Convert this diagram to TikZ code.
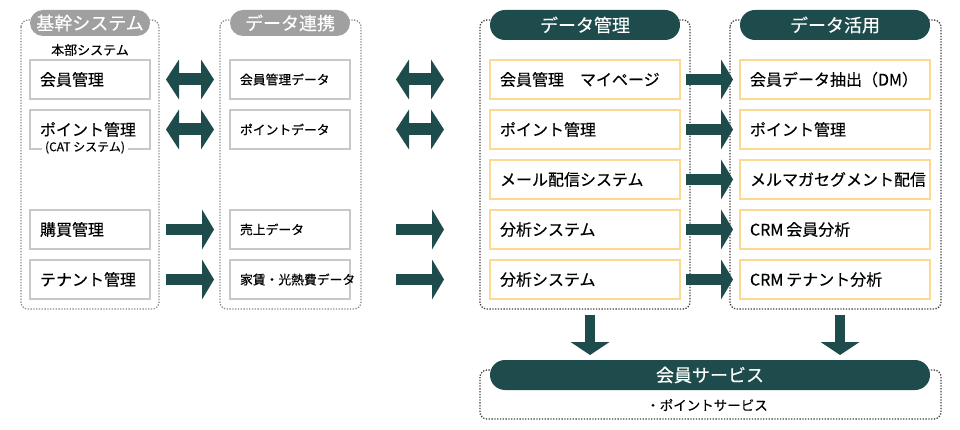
\documentclass[tikz,border=0pt]{standalone}
\usepackage{fontspec}
\setmainfont[FakeBold=0.35]{Noto Sans CJK JP}
\usetikzlibrary{arrows.meta}
\definecolor{dteal}{HTML}{1E4B4C}
\definecolor{pillgray}{HTML}{A0A0A0}
\definecolor{boxgray}{HTML}{C8C8C8}
\definecolor{boxorange}{HTML}{FCD891}
\definecolor{dotlight}{HTML}{8A8A8A}
\definecolor{dotdark}{HTML}{404040}
\begin{document}
\begin{tikzpicture}[x=1pt,y=-1pt,
  grp/.style={draw=#1, line width=1.3pt, dash pattern=on 1.3pt off 1.5pt, rounded corners=7pt},
  gpill/.style={fill=pillgray, text=white, rounded corners=13pt, minimum width=120pt, minimum height=26pt, inner sep=0pt, font=\fontsize{18}{20}\selectfont},
  tpill/.style={fill=dteal, text=white, rounded corners=15pt, minimum height=30pt, inner sep=0pt, font=\fontsize{18}{20}\selectfont},
  gbox/.style={draw=boxgray, line width=2pt, fill=white, minimum height=39pt, text width=100pt, inner xsep=10pt, inner ysep=0pt, align=left, font=\fontsize{16}{18}\selectfont},
  dbox/.style={gbox, font=\fontsize{12.8}{15}\selectfont},
  obox/.style={draw=boxorange, line width=2pt, fill=white, minimum height=39pt, text width=170pt, inner xsep=10pt, inner ysep=0pt, align=left, font=\fontsize{16}{18}\selectfont},
  subtxt/.style={inner sep=1pt, font=\fontsize{13}{15}\selectfont},
  cattxt/.style={fill=white, inner xsep=3pt, inner ysep=1pt, font=\fontsize{12}{14}\selectfont},
  barrow/.style={draw=dteal, line width=11pt, -{Triangle[length=12pt,width=40pt,line width=0pt]}},
  dbarrow/.style={draw=dteal, line width=12pt, {Triangle[length=13pt,width=40pt,line width=0pt]}-{Triangle[length=13pt,width=40pt,line width=0pt]}},
  darrow/.style={draw=dteal, line width=10pt, -{Triangle[length=13pt,width=39pt,line width=0pt]}}
]
\useasboundingbox (0,0) rectangle (960,430);

% group frames
\draw[grp=dotlight] (21,20) rectangle (159,309);
\draw[grp=dotlight] (220,20) rectangle (361,309);
\draw[grp=dotdark] (480,20) rectangle (690,309);
\draw[grp=dotdark] (730,20) rectangle (941,309);
\draw[grp=dotdark] (480,370) rectangle (941,419);

% headers
\node[gpill] (h1) at (90,23) {基幹システム};
\node[gpill] (h2) at (290,23) {データ連携};
\node[tpill, minimum width=190pt] (h3) at (585,25) {データ管理};
\node[tpill, minimum width=190pt] (h4) at (835,25) {データ活用};
\node[tpill, minimum width=440pt] (h5) at (710,375) {会員サービス};

\node[subtxt] (hs) at (90,50) {本部システム};
\node[subtxt, font=\fontsize{13.5}{15}\selectfont] (ps) at (707,405) {・ポイントサービス};

% column 1
\node[gbox] (k1) at (90,79.5) {会員管理};
\node[gbox] (k2) at (90,129.5) {ポイント管理};
\node[cattxt] (k2c) at (85,147.5) {(CAT システム)};
\node[gbox] (k3) at (90,229.5) {購買管理};
\node[gbox] (k4) at (90,279.5) {テナント管理};

% column 2
\node[dbox] (r1) at (290,79.5) {会員管理データ};
\node[dbox] (r2) at (290,129.5) {ポイントデータ};
\node[dbox] (r3) at (290,229.5) {売上データ};
\node[dbox] (r4) at (290,279.5) {\mbox{家賃・光熱費データ}};

% column 3
\node[obox] (m1) at (585,79.5) {会員管理　マイページ};
\node[obox] (m2) at (585,129.5) {ポイント管理};
\node[obox] (m3) at (585,179.5) {メール配信システム};
\node[obox] (m4) at (585,229.5) {分析システム};
\node[obox] (m5) at (585,279.5) {分析システム};

% column 4
\node[obox] (u1) at (835,79.5) {\mbox{会員データ抽出（DM）}};
\node[obox] (u2) at (835,129.5) {ポイント管理};
\node[obox] (u3) at (835,179.5) {\mbox{メルマガセグメント配信}};
\node[obox] (u4) at (835,229.5) {CRM\hspace{0.18em}会員分析};
\node[obox] (u5) at (835,279.5) {CRM\hspace{0.18em}テナント分析};

% arrows gap 1
\draw[dbarrow, shorten <=15pt, shorten >=15pt] (k1) -- (r1);
\draw[dbarrow, shorten <=15pt, shorten >=15pt] (k2) -- (r2);
\draw[barrow, shorten <=15pt, shorten >=15pt] (k3) -- (r3);
\draw[barrow, shorten <=15pt, shorten >=15pt] (k4) -- (r4);

% arrows gap 2
\draw[dbarrow, shorten <=45pt, shorten >=45pt] (r1) -- (m1);
\draw[dbarrow, shorten <=45pt, shorten >=45pt] (r2) -- (m2);
\draw[barrow, shorten <=45pt, shorten >=45pt] (r3) -- (m4);
\draw[barrow, shorten <=45pt, shorten >=45pt] (r4) -- (m5);

% arrows gap 3
\foreach \i in {1,...,5}{
  \draw[barrow, shorten <=5pt, shorten >=6pt] (m\i) -- (u\i);
}

% down arrows
\coordinate (da1) at (590,315);
\coordinate (db1) at (590,355);
\coordinate (da2) at (840,315);
\coordinate (db2) at (840,355);
\draw[darrow] (da1) -- (db1);
\draw[darrow] (da2) -- (db2);
\end{tikzpicture}
\end{document}
